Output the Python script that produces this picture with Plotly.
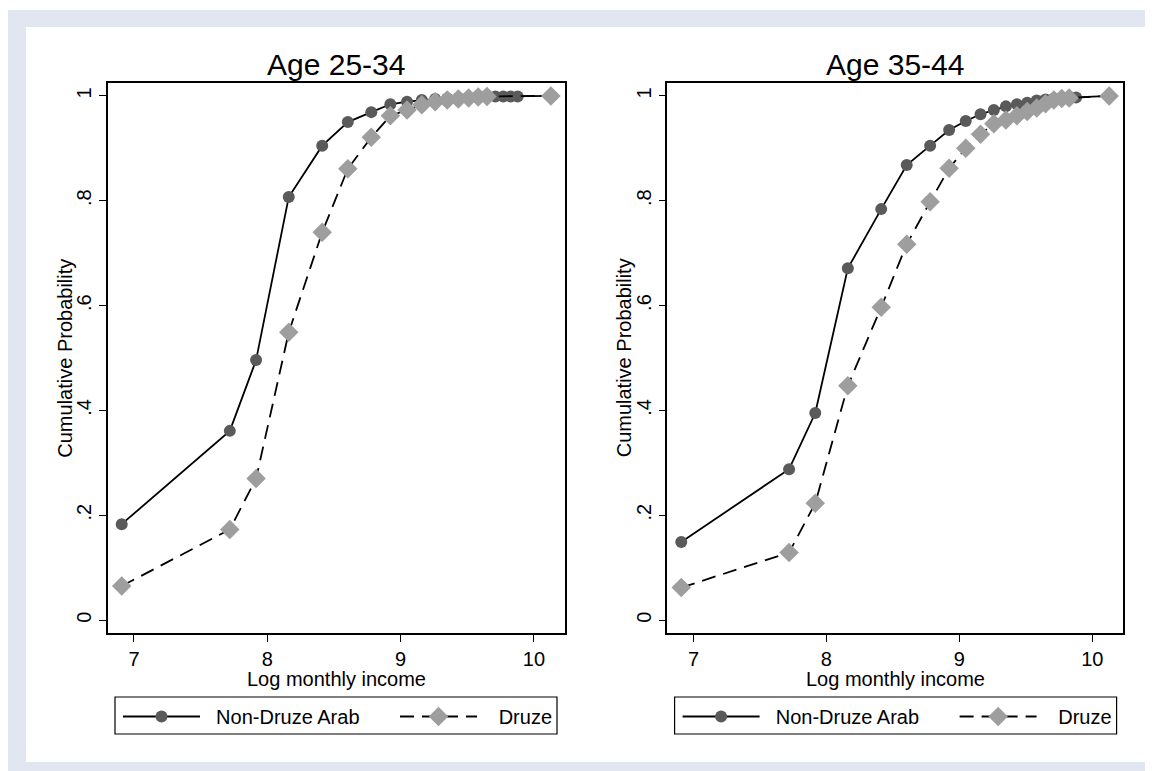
import plotly.graph_objects as go

# page has an 8px body margin; figure sized to fill the rest of the window
OX, OY = 8, 8
W, H = 1153 - OX, 771 - OY

# ---- data ----
x_nd_25 = [6.908, 7.719, 7.916, 8.161, 8.412, 8.604, 8.780, 8.923, 9.048, 9.159, 9.259,
           9.350, 9.433, 9.510, 9.582, 9.648, 9.711, 9.770, 9.826, 9.878, 10.127]
y_nd_25 = [0.183, 0.361, 0.496, 0.807, 0.905, 0.950, 0.969, 0.984, 0.989, 0.992, 0.994,
           0.995, 0.996, 0.997, 0.998, 0.998, 0.999, 0.999, 0.999, 0.999, 1.0]
x_dr_25 = [6.908, 7.719, 7.916, 8.161, 8.412, 8.604, 8.780, 8.923, 9.048, 9.159, 9.259,
           9.350, 9.433, 9.510, 9.582, 9.648, 10.127]
y_dr_25 = [0.065, 0.173, 0.270, 0.549, 0.740, 0.861, 0.921, 0.962, 0.973, 0.983, 0.989,
           0.992, 0.994, 0.996, 0.998, 0.999, 1.0]

x_nd_35 = [6.908, 7.719, 7.916, 8.161, 8.412, 8.604, 8.780, 8.923, 9.048, 9.159, 9.259,
           9.350, 9.433, 9.510, 9.582, 9.648, 9.711, 9.770, 9.826, 9.878, 10.127]
y_nd_35 = [0.149, 0.288, 0.395, 0.671, 0.784, 0.868, 0.905, 0.935, 0.952, 0.965, 0.973,
           0.980, 0.984, 0.987, 0.991, 0.993, 0.995, 0.996, 0.997, 0.997, 1.0]
x_dr_35 = [6.908, 7.719, 7.916, 8.161, 8.412, 8.604, 8.780, 8.923, 9.048, 9.159, 9.259,
           9.350, 9.433, 9.510, 9.582, 9.648, 9.711, 9.770, 9.826, 10.127]
y_dr_35 = [0.062, 0.129, 0.223, 0.447, 0.597, 0.717, 0.798, 0.862, 0.900, 0.927, 0.947,
           0.954, 0.962, 0.970, 0.977, 0.985, 0.992, 0.995, 0.996, 1.0]

panel_titles = ["Age 25-34", "Age 35-44"]
series_names = ["Non-Druze Arab", "Druze"]
y_tickvals = [0, 0.2, 0.4, 0.6, 0.8, 1]
y_ticktext = ["0", ".2", ".4", ".6", ".8", "1"]
x_tickvals = [7, 8, 9, 10]
x_title = "Log monthly income"
y_title = "Cumulative Probability"

FONT = "Liberation Sans, Arial, sans-serif"
ND_COLOR = "#5a5a5a"
DR_COLOR = "#9e9e9e"
BG = "#e1e6f0"
NBSP = "\u00a0"

def px_x(p):
    return (p - OX) / W

def px_y(p):
    return 1 - (p - OY) / H

# plot areas in window pixels
panels = [(107.7, 565.0), (667.3, 1123.3)]
top_px, bot_px = 83.3, 632.7

fig = go.Figure()

leg_names = [NBSP * 2 + series_names[0], NBSP * 3 + series_names[1]]

data = [(x_nd_25, y_nd_25, x_dr_25, y_dr_25), (x_nd_35, y_nd_35, x_dr_35, y_dr_35)]
for i, (xn, yn, xd, yd) in enumerate(data):
    sfx = "" if i == 0 else str(i + 1)
    leg = "legend" if i == 0 else "legend2"
    fig.add_trace(go.Scatter(
        x=xn, y=yn, mode="lines+markers", name=leg_names[0],
        line=dict(color="black", width=1.8),
        marker=dict(symbol="circle", size=12, color=ND_COLOR),
        xaxis="x" + sfx, yaxis="y" + sfx, legend=leg))
    fig.add_trace(go.Scatter(
        x=xd, y=yd, mode="lines+markers", name=leg_names[1],
        line=dict(color="black", width=1.8, dash="14px,8px"),
        marker=dict(symbol="diamond", size=15, color=DR_COLOR),
        xaxis="x" + sfx, yaxis="y" + sfx, legend=leg))

layout = dict(
    width=W, height=H,
    margin=dict(l=0, r=0, t=0, b=0, autoexpand=False),
    paper_bgcolor="white",
    plot_bgcolor="white",
    font=dict(family=FONT, color="black"),
    showlegend=True,
)

for i, (l, r) in enumerate(panels):
    sfx = "" if i == 0 else str(i + 1)
    xa = dict(
        domain=[px_x(l), px_x(r)], range=[6.803, 10.233], anchor="y" + sfx,
        tickvals=x_tickvals, ticks="outside", ticklen=7, tickwidth=1.3, tickcolor="black",
        showline=True, linecolor="black", linewidth=1.6, mirror=True,
        showgrid=False, zeroline=False, tickfont=dict(size=20, family=FONT),
    )
    ya = dict(
        domain=[px_y(bot_px), px_y(top_px)], range=[-0.024, 1.024], anchor="x" + sfx,
        tickvals=y_tickvals, ticktext=y_ticktext, tickangle=-90,
        ticks="outside", ticklen=7, tickwidth=1.3, tickcolor="black",
        showline=True, linecolor="black", linewidth=1.6, mirror=True,
        showgrid=False, zeroline=False, tickfont=dict(size=20, family=FONT),
    )
    layout["xaxis" + sfx] = xa
    layout["yaxis" + sfx] = ya

annotations = []
shapes = [
    dict(type="rect", xref="paper", yref="paper", x0=px_x(8), x1=1.0, y0=0.0, y1=px_y(10),
         fillcolor=BG, line=dict(width=0), layer="below"),
    dict(type="rect", xref="paper", yref="paper", x0=px_x(26), x1=px_x(1149), y0=px_y(762), y1=px_y(27),
         fillcolor="white", line=dict(width=0), layer="below"),
]
for i, (l, r) in enumerate(panels):
    cx = (l + r) / 2
    annotations.append(dict(text=panel_titles[i], x=px_x(cx), y=px_y(64), xref="paper", yref="paper",
                            showarrow=False, font=dict(size=30, family=FONT), xanchor="center", yanchor="middle"))
    annotations.append(dict(text=x_title, x=px_x(cx), y=px_y(679), xref="paper", yref="paper",
                            showarrow=False, font=dict(size=20, family=FONT), xanchor="center", yanchor="middle"))
    annotations.append(dict(text=y_title, x=px_x(l - 43), y=px_y((top_px + bot_px) / 2), xref="paper", yref="paper",
                            showarrow=False, textangle=-90, font=dict(size=20, family=FONT),
                            xanchor="center", yanchor="middle"))
    # legend frame
    shapes.append(dict(type="rect", xref="paper", yref="paper",
                       x0=px_x(l + 7.3), x1=px_x(l + 449.3), y0=px_y(734), y1=px_y(697),
                       fillcolor="white", line=dict(color="black", width=1.2), layer="below"))

leg_common = dict(orientation="h", bgcolor="rgba(0,0,0,0)", borderwidth=0,
                  font=dict(size=20, family=FONT), itemwidth=77, entrywidth=185,
                  entrywidthmode="pixels", xanchor="left", yanchor="top", tracegroupgap=0)
layout["legend"] = dict(leg_common, x=px_x(118), y=px_y(697))
layout["legend2"] = dict(leg_common, x=px_x(118 + 559.6), y=px_y(697))
layout["annotations"] = annotations
layout["shapes"] = shapes

fig.update_layout(**layout)
fig.write_html("out.html")
